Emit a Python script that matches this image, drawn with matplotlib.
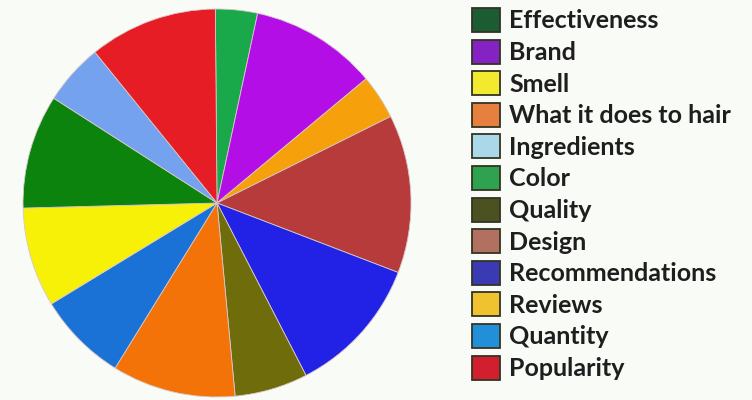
import matplotlib
matplotlib.use('Agg')
import matplotlib.pyplot as plt
from matplotlib.patches import Rectangle

# pie slices, clockwise from 12 o'clock (percent)
slice_values = [3.5, 10.6, 3.7, 13.2, 11.6, 6.1, 10.3, 7.5, 8.3, 9.5, 5.1, 10.7]
slice_colors = ['#19a94a', '#b30ee6', '#f6a10c', '#b83b3b', '#2222e6', '#6f6c0c',
                '#f47308', '#1b72d6', '#f7f007', '#0b830d', '#74a2ee', '#e71d25']

# legend entries
labels = ['Effectiveness', 'Brand', 'Smell', 'What it does to hair', 'Ingredients',
          'Color', 'Quality', 'Design', 'Recommendations', 'Reviews', 'Quantity',
          'Popularity']
legend_colors = ['#1b5c32', '#8422c4', '#f2ea2e', '#e7803f', '#a9d8e9', '#2fa250',
                 '#4b5120', '#b27060', '#3a3ab4', '#f1c230', '#2290d9', '#d21f30']

bg = '#f9fbf7'
W, H = 752, 400
fig = plt.figure(figsize=(W / 100, H / 100), dpi=100, facecolor=bg)

ax = fig.add_axes([0.0306, 0.0075, 0.516, 0.97])
ax.set_facecolor(bg)
ax.pie(slice_values, colors=slice_colors, startangle=90.5, counterclock=False,
       radius=1, wedgeprops=dict(edgecolor='#d8c8c8', linewidth=0.6))
ax.set_xlim(-1, 1)
ax.set_ylim(-1, 1)
ax.set_aspect('equal')
ax.axis('off')

# hand-placed key, one row per label (pixel layout from the top)
row0, step = 20, 31.6
for i, (lab, col) in enumerate(zip(labels, legend_colors)):
    yc = row0 + i * step
    fig.add_artist(Rectangle((472 / W, 1 - (yc + 12) / H), 28 / W, 24 / H,
                             transform=fig.transFigure, facecolor=col,
                             edgecolor='#333322', linewidth=1.3))
    fig.text(509 / W, 1 - (yc + 1) / H, lab, family='Lato', weight='bold',
             fontsize=18, color='#1e1e1e', va='center', ha='left')

fig.savefig('out.png', dpi=100, facecolor=bg)
